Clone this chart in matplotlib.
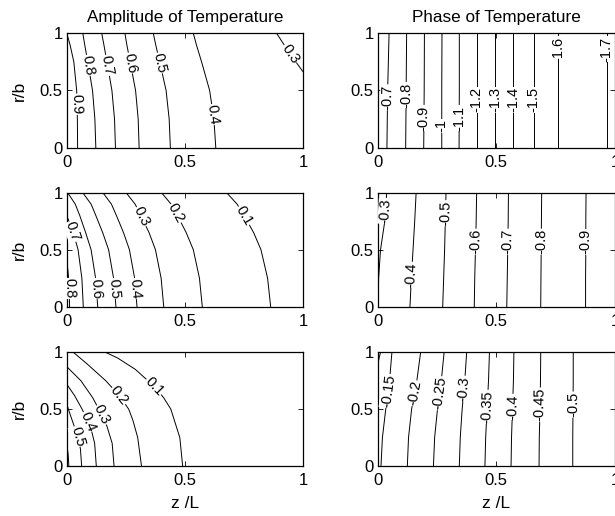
import numpy as np
import matplotlib
matplotlib.use("Agg")
import matplotlib.pyplot as plt

plt.rcParams['font.family'] = ['Liberation Sans', 'DejaVu Sans']

# ---- top row: amplitude ----
amp1_levels = [0.9, 0.8, 0.7, 0.6, 0.5, 0.4, 0.3]
amp1_r = [[0, 0.25, 0.5, 0.75, 0.9, 1.0]] * 6 + [[0.66, 0.76, 0.88, 1.0]]
amp1_z = [
    [0.046, 0.045, 0.042, 0.030, 0.014, 0.0],
    [0.123, 0.119, 0.109, 0.089, 0.076, 0.068],
    [0.206, 0.202, 0.191, 0.170, 0.157, 0.148],
    [0.306, 0.302, 0.291, 0.268, 0.254, 0.246],
    [0.438, 0.433, 0.420, 0.393, 0.376, 0.366],
    [0.630, 0.622, 0.604, 0.570, 0.548, 0.535],
    [1.0, 0.965, 0.925, 0.887],
]
amp1_lab = [0.38, 0.72, 0.72, 0.74, 0.74, 0.29, 0.82]

# ---- top row: phase ----
ph1_levels = [-0.7, -0.8, -0.9, -1, -1.1, -1.2, -1.3, -1.4, -1.5, -1.6, -1.7]
ph1_r = [[0, 0.5, 1.0]] * 11
ph1_z = [
    [0.039, 0.042, 0.048],
    [0.118, 0.120, 0.122],
    [0.194, 0.196, 0.197],
    [0.270, 0.270, 0.271],
    [0.343, 0.344, 0.344],
    [0.417, 0.417, 0.417],
    [0.494, 0.494, 0.494],
    [0.572, 0.572, 0.572],
    [0.657, 0.657, 0.657],
    [0.761, 0.761, 0.761],
    [0.965, 0.965, 0.965],
]
ph1_lab = [0.44, 0.46, 0.26, 0.19, 0.26, 0.42, 0.42, 0.42, 0.42, 0.86, 0.86]

# ---- middle row: amplitude ----
amp2_levels = [0.8, 0.7, 0.6, 0.5, 0.4, 0.3, 0.2, 0.1]
amp2_r = ([[0, 0.2, 0.32, 0.42], [0, 0.25, 0.5, 0.65, 0.8]]
          + [[0, 0.25, 0.5, 0.65, 0.8, 0.9, 1.0]] * 6)
amp2_z = [
    [0.012, 0.010, 0.005, 0.0],
    [0.070, 0.064, 0.048, 0.028, 0.0],
    [0.131, 0.122, 0.103, 0.080, 0.055, 0.036, 0.004],
    [0.208, 0.198, 0.177, 0.152, 0.123, 0.103, 0.068],
    [0.297, 0.287, 0.265, 0.240, 0.210, 0.189, 0.153],
    [0.410, 0.399, 0.375, 0.348, 0.313, 0.289, 0.251],
    [0.573, 0.561, 0.535, 0.505, 0.468, 0.441, 0.401],
    [0.862, 0.849, 0.821, 0.790, 0.750, 0.720, 0.676],
]
amp2_lab = [0.16, 0.66, 0.16, 0.16, 0.16, 0.79, 0.82, 0.80]

# ---- middle row: phase ----
ph2_levels = [-0.3, -0.4, -0.5, -0.6, -0.7, -0.8, -0.9]
ph2_r = [[0, 0.25, 0.5, 0.75, 1.0]] * 7
ph2_z = [
    [0.002, 0.004, 0.012, 0.030, 0.038],
    [0.136, 0.142, 0.149, 0.156, 0.162],
    [0.274, 0.278, 0.282, 0.285, 0.288],
    [0.407, 0.409, 0.412, 0.415, 0.417],
    [0.544, 0.546, 0.548, 0.550, 0.551],
    [0.687, 0.688, 0.689, 0.690, 0.691],
    [0.876, 0.876, 0.877, 0.877, 0.878],
]
ph2_lab = [0.84, 0.28, 0.82, 0.57, 0.57, 0.57, 0.57]

# ---- bottom row: amplitude ----
amp3_levels = [0.6, 0.5, 0.4, 0.3, 0.2, 0.1]
amp3_r = [
    [0, 0.1, 0.2],
    [0, 0.15, 0.26, 0.36, 0.45, 0.545],
    [0, 0.2, 0.3, 0.39, 0.5, 0.62, 0.72],
    [0, 0.2, 0.35, 0.45, 0.6, 0.75, 0.874],
    [0, 0.25, 0.4, 0.5, 0.62, 0.75, 0.9, 1.0],
    [0, 0.25, 0.5, 0.6, 0.7, 0.85, 0.95, 1.0],
]
amp3_z = [
    [0.009, 0.006, 0.0],
    [0.063, 0.058, 0.046, 0.030, 0.015, 0.0],
    [0.125, 0.118, 0.106, 0.090, 0.065, 0.033, 0.0],
    [0.200, 0.192, 0.170, 0.148, 0.110, 0.060, 0.0],
    [0.316, 0.300, 0.280, 0.262, 0.222, 0.165, 0.085, 0.028],
    [0.490, 0.478, 0.440, 0.410, 0.370, 0.290, 0.215, 0.164],
]
amp3_lab = [None, 0.26, 0.39, 0.45, 0.62, 0.70]

# ---- bottom row: phase ----
ph3_levels = [-0.1, -0.15, -0.2, -0.25, -0.3, -0.35, -0.4, -0.45, -0.5]
ph3_r = [[0.88, 0.95, 1.0]] + [[0, 0.25, 0.5, 0.75, 1.0]] * 8
ph3_z = [
    [0.0, 0.006, 0.012],
    [0.014, 0.020, 0.034, 0.050, 0.060],
    [0.125, 0.130, 0.143, 0.165, 0.181],
    [0.235, 0.240, 0.252, 0.268, 0.280],
    [0.344, 0.348, 0.356, 0.367, 0.375],
    [0.452, 0.455, 0.461, 0.467, 0.471],
    [0.562, 0.564, 0.568, 0.572, 0.574],
    [0.680, 0.681, 0.684, 0.686, 0.687],
    [0.822, 0.822, 0.823, 0.824, 0.824],
]
ph3_lab = [None, 0.66, 0.64, 0.64, 0.68, 0.52, 0.52, 0.54, 0.54]


def setup(ax):
    ax.set_xlim(0, 1)
    ax.set_ylim(0, 1)
    ax.set_xticks([0, 0.5, 1])
    ax.set_yticks([0, 0.5, 1])
    ax.set_xticklabels(['0', '0.5', '1'])
    ax.set_yticklabels(['0', '0.5', '1'])
    ax.tick_params(direction='in', top=True, right=True, length=3.5, width=0.6,
                   labelsize=12)
    ax.tick_params(axis='x', pad=5)
    ax.tick_params(axis='y', pad=3)
    for s in ax.spines.values():
        s.set_linewidth(0.9)


def draw(ax, levels, rs, zs, labs, upward):
    for lev, r, z, lr in zip(levels, rs, zs, labs):
        ax.plot(z, r, color='k', lw=0.7)
        if lr is None:
            continue
        zl = np.interp(lr, r, z)
        lo, hi = max(lr - 0.05, r[0]), min(lr + 0.05, r[-1])
        p1 = ax.transData.transform((np.interp(lo, r, z), lo))
        p2 = ax.transData.transform((np.interp(hi, r, z), hi))
        d = p2 - p1 if upward else p1 - p2
        ang = np.degrees(np.arctan2(d[1], d[0]))
        ax.text(zl, lr, f"{lev:g}", rotation=ang, rotation_mode='anchor',
                ha='center', va='center', fontsize=10.5, zorder=3,
                bbox=dict(fc='white', ec='none', pad=0.3))


fig = plt.figure(figsize=(6.15, 5.16), dpi=100)
lx, rx, w = 0.1085, 0.6141, 0.3859
rows = [(0.7138, 0.2217), (0.4056, 0.2209), (0.0969, 0.2203)]

panels = [
    (amp1_levels, amp1_r, amp1_z, amp1_lab, ph1_levels, ph1_r, ph1_z, ph1_lab),
    (amp2_levels, amp2_r, amp2_z, amp2_lab, ph2_levels, ph2_r, ph2_z, ph2_lab),
    (amp3_levels, amp3_r, amp3_z, amp3_lab, ph3_levels, ph3_r, ph3_z, ph3_lab),
]

for i, ((b, h), p) in enumerate(zip(rows, panels)):
    axl = fig.add_axes([lx, b, 0.3847, h])
    axr = fig.add_axes([rx, b, w, h])
    for ax in (axl, axr):
        setup(ax)
    draw(axl, p[0], p[1], p[2], p[3], upward=False)
    draw(axr, p[4], p[5], p[6], p[7], upward=True)
    axl.set_ylabel('r/b', fontsize=12.5)
    axl.yaxis.set_label_coords(-0.17, 0.5)
    if i == 0:
        axl.set_title('Amplitude of Temperature', fontsize=12.3, pad=8)
        axr.set_title('Phase of Temperature', fontsize=12.3, pad=8)
    if i == 2:
        for ax in (axl, axr):
            ax.set_xlabel('z /L', fontsize=12.5)
            ax.xaxis.set_label_coords(0.5, -0.26)

fig.savefig('out.png', dpi=100)
